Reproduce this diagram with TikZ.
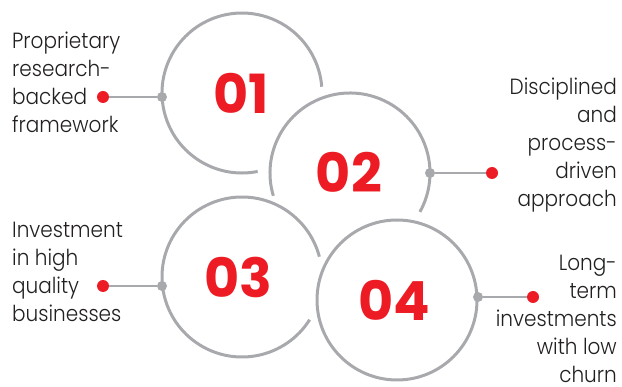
\documentclass[tikz,border=0pt]{standalone}
\usepackage{fontspec}
\setmainfont{Poppins}[UprightFont=* Light, FakeStretch=0.91]
\newfontfamily\numfont{Poppins}[UprightFont=* Bold]
\definecolor{cred}{HTML}{ED1C24}
\definecolor{cgrey}{HTML}{A7A9AC}
\definecolor{ctext}{HTML}{231F20}
\begin{document}
\begin{tikzpicture}[x=1pt,y=-1pt,
  ring/.style={draw=cgrey,line width=3pt},
  link/.style={draw=cgrey,line width=2.6pt},
  gdot/.style={circle,fill=cgrey,inner sep=0pt,minimum size=10pt},
  rdot/.style={circle,fill=cred,inner sep=0pt,minimum size=12pt},
  num/.style={text=cred,font=\numfont\fontsize{54}{54}\selectfont,inner sep=0pt},
  lbl/.style={text=ctext,font=\fontsize{22}{28}\selectfont,inner sep=0pt}]
\useasboundingbox (0,0) rectangle (622,387);
% rings
\draw[ring] (242,93) ++(78.7:80) arc[start angle=78.7,end angle=355.5,radius=80];
\draw[ring] (350,173) ++(163.4:80) arc[start angle=163.4,end angle=389.1,radius=80];
\draw[ring] (242,277) ++(32.3:80) arc[start angle=32.3,end angle=345.3,radius=80];
\draw[ring] (397,300) circle[radius=80];
% numbers
\node[num] (n1) at (241,93) {01};
\node[num] (n2) at (349,172) {02};
\node[num] (n3) at (238,277) {03};
\node[num] (n4) at (394,300) {04};
% dots
\node[gdot] (g1) at (162,97) {};
\node[rdot] (r1) at (103,97) {};
\node[gdot] (g2) at (430,173) {};
\node[rdot] (r2) at (492,173) {};
\node[gdot] (g3) at (162,286) {};
\node[rdot] (r3) at (103,286) {};
\node[gdot] (g4) at (478,297) {};
\node[rdot] (r4) at (533,297) {};
\draw[link] (r1) -- (g1);
\draw[link] (g2) -- (r2);
\draw[link] (r3) -- (g3);
\draw[link] (g4) -- (r4);
% labels (base anchor = baseline of the last line)
\node[lbl,align=left,anchor=base west] (t1) at (12,133) {Proprietary\\research-\\backed\\framework};
\node[lbl,align=right,anchor=base east] (t2) at (617,207) {Disciplined\\and\\process-\\driven\\approach};
\node[lbl,align=left,anchor=base west] (t3) at (12,322) {Investment\\in high\\quality\\businesses};
\node[lbl,align=right,anchor=base east,text depth=0pt] (t4) at (617,383) {Long-\\term\\investments\\with low\\churn};
\end{tikzpicture}
\end{document}
